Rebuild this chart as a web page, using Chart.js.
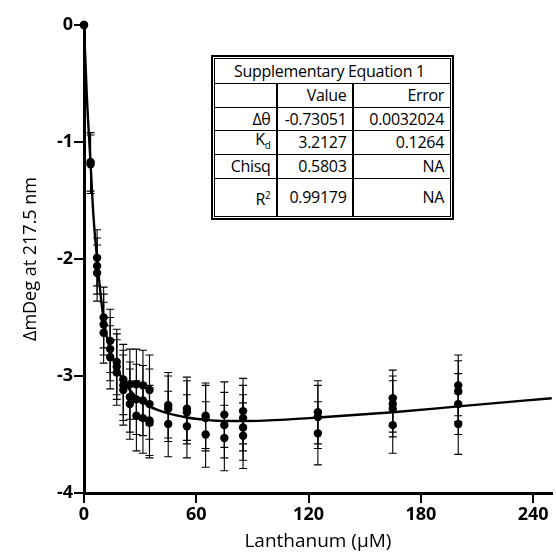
<!DOCTYPE html>
<html>
<head>
<meta charset="utf-8">
<script src="https://cdn.jsdelivr.net/npm/chart.js@4.4.1/dist/chart.umd.min.js"></script>
<style>
  body { margin: 0; background: #fff; }
  #wrap { position: relative; width: 556px; height: 556px; }
  #fitTable {
    position: absolute; left: 211px; top: 55px;
    border: 2px solid #000; padding: 1px; background: #fff;
    font-family: "Open Sans", "Noto Sans", sans-serif; font-size: 16px; color: #000;
  }
  #fitTable table { border-collapse: collapse; border: 1px solid #000; table-layout: fixed; width: 236px; }
  #fitTable td { border-top: 1px solid #000; border-bottom: 1px solid #000; border-left: 2px solid #000; border-right: 2px solid #000;
    text-align: right; padding: 0 5px 0 0; line-height: 17px; white-space: nowrap; overflow: visible; letter-spacing: -0.3px; }
  #fitTable td.title { text-align: center; padding: 0; border-left: none; border-right: none; }
  #fitTable td:first-child { border-left: none; }
  #fitTable td:last-child { border-right: none; padding-right: 6px; }
  sub, sup { font-size: 10px; }
</style>
</head>
<body>
<div id="wrap">
  <canvas id="kdChart" width="556" height="556"></canvas>
  <div id="fitTable">
    <table>
      <colgroup><col style="width:62px"><col style="width:76px"><col style="width:98px"></colgroup>
      <tr style="height:25px"><td class="title" colspan="3">Supplementary Equation 1</td></tr>
      <tr style="height:24px"><td></td><td>Value</td><td>Error</td></tr>
      <tr style="height:23px"><td>&Delta;&theta;</td><td>-0.73051</td><td>0.0032024</td></tr>
      <tr style="height:23px"><td>K<sub>d</sub></td><td>3.2127</td><td>0.1264</td></tr>
      <tr style="height:24px"><td>Chisq</td><td>0.5803</td><td>NA</td></tr>
      <tr style="height:38px"><td>R<sup>2</sup></td><td>0.99179</td><td>NA</td></tr>
    </table>
  </div>
</div>
<script>
// 1. Data
const conc = [0, 3.5, 7, 10.5, 14, 17.5, 21, 24.5, 28, 31.5, 35, 45, 55, 65, 75, 85, 125, 165, 200];
const rep1 = [0, -1.17, -1.99, -2.50, -2.70, -2.88, -3.03, -3.07, -3.07, -3.08, -3.12, -3.25, -3.28, -3.34, -3.33, -3.30, -3.31, -3.19, -3.08];
const rep2 = [0, -1.19, -2.06, -2.56, -2.77, -2.92, -3.08, -3.18, -3.20, -3.21, -3.24, -3.28, -3.31, -3.36, -3.42, -3.36, -3.35, -3.24, -3.13];
const rep3 = [null, null, -2.12, -2.63, -2.84, -2.97, -3.12, -3.24, -3.34, -3.36, -3.38, -3.41, -3.43, -3.50, -3.53, -3.51, -3.49, -3.42, -3.41];
const rep4 = [null, null, null, null, null, null, null, null, null, null, -3.40, null, null, null, null, -3.44, null, -3.28, -3.24];
const errs = [0, 0.25, 0.24, 0.26, 0.27, 0.28, 0.30, 0.30, 0.30, 0.30, 0.30, 0.28, 0.27, 0.28, 0.28, 0.28, 0.27, 0.24, 0.26];

// fitted curve
const fitX = [0, 1.5, 3.5, 5, 7, 10.5, 14, 17.5, 21, 24.5, 28, 31.5, 35, 45, 55, 65, 75, 85, 105, 125, 165, 200, 250];
const fitY = [0, -0.6, -1.18, -1.62, -2.0, -2.52, -2.78, -2.93, -3.04, -3.12, -3.18, -3.22, -3.26, -3.32, -3.355, -3.375, -3.385, -3.385, -3.375, -3.355, -3.31, -3.26, -3.19];

const xTicks = [0, 60, 120, 180, 240];
const yTicks = [0, -1, -2, -3, -4];

// 2. Error bar plugin (draws through the chart scales)
const errorBars = {
  id: 'errorBars',
  beforeDatasetsDraw(chart) {
    const { ctx, scales: { x, y } } = chart;
    ctx.save();
    ctx.strokeStyle = '#000';
    ctx.lineWidth = 1.1;
    chart.data.datasets.forEach(ds => {
      if (!ds.errors) return;
      ds.data.forEach((p, i) => {
        const e = ds.errors[i];
        if (!e) return;
        const px = x.getPixelForValue(p.x);
        const top = y.getPixelForValue(p.y + e);
        const bot = y.getPixelForValue(p.y - e);
        ctx.beginPath();
        ctx.moveTo(px, top); ctx.lineTo(px, bot);
        ctx.moveTo(px - 4, top); ctx.lineTo(px + 4, top);
        ctx.moveTo(px - 4, bot); ctx.lineTo(px + 4, bot);
        ctx.stroke();
      });
    });
    ctx.restore();
  }
};

function replicate(values) {
  const pts = [], bars = [];
  values.forEach((v, i) => {
    if (v === null) return;
    pts.push({ x: conc[i], y: v });
    bars.push(errs[i]);
  });
  return {
    type: 'scatter', data: pts, errors: bars,
    pointRadius: 4.2, pointBackgroundColor: '#000', pointBorderWidth: 0,
    clip: false, order: 1
  };
}

// 3. Build the chart
const fontFace = '"Open Sans", "Noto Sans", sans-serif';

new Chart(document.getElementById('kdChart'), {
  type: 'scatter',
  data: {
    datasets: [
      {
        type: 'line',
        data: fitX.map((v, i) => ({ x: v, y: fitY[i] })),
        borderColor: '#000', borderWidth: 2.4, pointRadius: 0,
        cubicInterpolationMode: 'monotone', fill: false, clip: false, order: 0
      },
      replicate(rep1), replicate(rep2), replicate(rep3), replicate(rep4)
    ]
  },
  options: {
    responsive: false,
    animation: false,
    layout: { padding: { top: 25, right: 2, left: 0, bottom: 0 } },
    plugins: { legend: { display: false }, tooltip: { enabled: false } },
    scales: {
      x: {
        type: 'linear', min: 0, max: 250,
        afterBuildTicks: s => { s.ticks = xTicks.map(v => ({ value: v })); },
        afterFit: s => { s.height = 63; },
        ticks: { color: '#000', padding: 1, maxRotation: 0, font: { family: fontFace, size: 18, weight: 'bold' } },
        grid: { drawOnChartArea: false, drawTicks: true, tickLength: 10, color: '#000', lineWidth: 2 },
        border: { color: '#000', width: 3 },
        title: { display: true, text: 'Lanthanum (\u03BCM)', color: '#000', padding: { top: 0, bottom: 3 },
          font: { family: fontFace, size: 19 } }
      },
      y: {
        type: 'linear', min: -4, max: 0,
        afterBuildTicks: s => { s.ticks = yTicks.map(v => ({ value: v })); },
        afterFit: s => { s.width = 84; },
        ticks: { color: '#000', padding: 1, font: { family: fontFace, size: 18, weight: 'bold' } },
        grid: { drawOnChartArea: false, drawTicks: true, tickLength: 10, color: '#000', lineWidth: 2 },
        border: { color: '#000', width: 3 },
        title: { display: true, text: '\u0394mDeg at 217.5 nm', color: '#000', padding: { top: 20, bottom: 0 },
          font: { family: fontFace, size: 18 } }
      }
    }
  },
  plugins: [errorBars]
});
</script>
</body>
</html>
